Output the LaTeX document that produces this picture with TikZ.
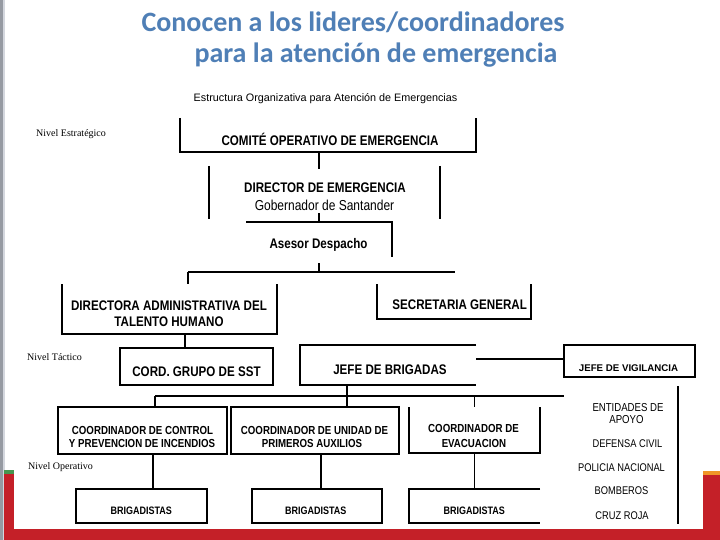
\documentclass[tikz,border=0pt]{standalone}
\usepackage{fontspec}
\setmainfont{Liberation Sans}
\newfontfamily\nivelfont{Liberation Serif}
\newfontfamily\titlefont{Carlito}
\definecolor{titleblue}{RGB}{79,127,182}
\definecolor{slidered}{RGB}{196,32,40}
\definecolor{slidegreen}{RGB}{70,150,80}
\definecolor{slideorange}{RGB}{240,150,40}
\definecolor{bargray}{RGB}{150,154,162}
\definecolor{barlight}{RGB}{212,215,222}
\newcommand\vs[1]{\scalebox{1}[1.2]{#1}}
\begin{document}
\begin{tikzpicture}[x=1pt,y=-1pt,
  boxn/.style={rectangle, draw=none, inner sep=0pt, outer sep=0pt},
  ln/.style={draw=black, line width=1.2pt},
  big/.style={anchor=base, inner sep=0pt, font=\fontsize{11.6}{12}\selectfont\bfseries},
  mid/.style={anchor=base, inner sep=0pt, font=\fontsize{9.7}{10}\selectfont\bfseries},
  small/.style={anchor=base, inner sep=0pt, font=\fontsize{9}{10}\selectfont\bfseries},
  ent/.style={anchor=base, inner sep=0pt, font=\fontsize{9.3}{10}\selectfont},
  nivel/.style={anchor=base west, inner sep=0pt, font=\nivelfont\fontsize{10}{11}\selectfont},
  ttl/.style={anchor=base, inner sep=0pt, text=titleblue, font=\titlefont\bfseries\fontsize{28}{30}\selectfont}]
\useasboundingbox (0,0) rectangle (720,540);
\fill[white] (0,0) rectangle (720,540);
% slide decoration
\fill[bargray] (0,0) rectangle (3,540);
\fill[barlight] (3,0) rectangle (5,540);
\fill[slidered] (4,474) rectangle (14,540);
\fill[slidegreen] (4,470) rectangle (14,474);
\fill[slidered] (4,529) rectangle (720,540);
\fill[slidered] (703,474) rectangle (720,540);
\fill[slideorange] (703,471) rectangle (720,475);
% title
\node[ttl] (ttl1) at (353,32) {Conocen a los lideres/coordinadores};
\node[ttl] (ttl2) at (376,63) {para la atención de emergencia};
% header
\node[anchor=base, inner sep=0pt, font=\fontsize{10.8}{11}\selectfont] (tstruct) at (325.5,102) {Estructura Organizativa para Atención de Emergencias};
\node[nivel] (nivel1) at (36,137) {Nivel Estratégico};
\node[nivel] (nivel2) at (27,360.7) {Nivel Táctico};
\node[nivel] (nivel3) at (28,469.5) {Nivel Operativo};
% boxes
\node[boxn, minimum width=296pt, minimum height=34pt] (comite) at (328,135) {};
\node[boxn, minimum width=231pt, minimum height=53pt] (director) at (324.5,192.5) {};
\node[boxn, minimum width=146pt, minimum height=35pt] (asesor) at (319,239.5) {};
\node[boxn, minimum width=215pt, minimum height=50pt] (directora) at (169.5,309) {};
\node[boxn, minimum width=154pt, minimum height=35pt] (secretaria) at (454,301.5) {};
\node[boxn, minimum width=153pt, minimum height=37pt] (cord) at (196.5,366.5) {};
\node[boxn, minimum width=176pt, minimum height=40pt] (jefebrig) at (388,365) {};
\node[boxn, minimum width=131pt, minimum height=32pt] (vigilancia) at (629.5,361) {};
\node[boxn, minimum width=169pt, minimum height=47pt] (control) at (142.5,430.5) {};
\node[boxn, minimum width=168pt, minimum height=47pt] (unidad) at (315,430.5) {};
\node[boxn, minimum width=131pt, minimum height=46pt] (evac) at (474.5,430) {};
\node[boxn, minimum width=131pt, minimum height=34pt] (brig1) at (141.5,506) {};
\node[boxn, minimum width=130pt, minimum height=34pt] (brig2) at (317,506) {};
\node[boxn, minimum width=131pt, minimum height=34pt] (brig3) at (474.5,506) {};
\node[boxn, minimum width=118pt, minimum height=138pt] (entidades) at (619,455) {};
% box outlines (as printed, some sides missing)
\draw[ln] (comite.north west) -- (comite.south west) -- (comite.south east) -- (comite.north east);
\draw[ln] (director.north west) -- (director.south west);
\draw[ln] (director.north east) -- (director.south east);
\draw[ln] (asesor.north west) -- (asesor.north east) -- (asesor.south east);
\draw[ln] (directora.north west) -- (directora.south west) -- (directora.south east) -- (directora.north east);
\draw[ln] (secretaria.north west) -- (secretaria.south west) -- (secretaria.south east) -- (secretaria.north east);
\draw[ln] (cord.north west) rectangle (cord.south east);
\draw[ln] (jefebrig.north east) -- (jefebrig.north west) -- (jefebrig.south west) -- (jefebrig.south east);
\draw[ln] (vigilancia.north west) rectangle (vigilancia.south east);
\draw[ln] (control.north west) rectangle (control.south east);
\draw[ln] (unidad.north west) rectangle (unidad.south east);
\draw[ln] (evac.north west) -- (evac.south west) -- (evac.south east) -- (evac.north east);
\draw[ln] (brig1.north west) rectangle (brig1.south east);
\draw[ln] (brig2.north west) rectangle (brig2.south east);
\draw[ln] (brig3.north east) -- (brig3.north west) -- (brig3.south west) -- (brig3.south east);
\draw[ln] (entidades.north east) -- (entidades.south east);
% connectors
\coordinate (bus1L) at (188,272);
\coordinate (bus1R) at (455,272);
\coordinate (bus2L) at (155,396);
\coordinate (bus2R) at (564,396);
\draw[ln] (comite.south -| asesor.north) -- ++(0,17);
\draw[ln] (asesor.north) -- ++(0,-9);
\draw[ln] (asesor.south) ++(0,6) -- (asesor.south |- bus1L);
\draw[ln] (bus1L) -- (bus1R);
\draw[ln] (bus1L) -- (bus1L |- directora.north);
\draw[ln] ([xshift=15.5pt]directora.south) -- ([xshift=15.5pt]directora.south |- cord.north);
\draw[ln] ([yshift=2pt]vigilancia.west) -- ([yshift=2pt]vigilancia.west -| jefebrig.east);
\draw[ln] (bus2L) -- (bus2R);
\draw[ln] (bus2L) -- (bus2L |- control.north);
\draw[ln] (evac.north |- bus2L) -- (evac.north);
\draw[ln] ([xshift=-41pt]jefebrig.south) -- ([xshift=-41pt]jefebrig.south |- unidad.north);
\draw[ln] ([xshift=10.5pt]control.south) -- ([xshift=10.5pt]control.south |- brig1.north);
\draw[ln] ([xshift=6pt]unidad.south) -- ([xshift=6pt]unidad.south |- brig2.north);
\draw[ln] (evac.south) -- (brig3.north);
% texts
\node[big] (tcomite) at (330,146) {\vs{COMITÉ OPERATIVO DE EMERGENCIA}};
\node[big] (tdir1) at (325,192.7) {\vs{DIRECTOR DE EMERGENCIA}};
\node[big, font=\fontsize{12}{13}\selectfont] (tdir2) at (324.5,210.7) {\vs{Gobernador de Santander}};
\node[big] (tases) at (318.5,248.3) {\vs{Asesor Despacho}};
\node[big] (tdta1) at (169,310.7) {\vs{DIRECTORA ADMINISTRATIVA DEL}};
\node[big] (tdta2) at (169,326.7) {\vs{TALENTO HUMANO}};
\node[big] (tsec) at (459.7,309.3) {\vs{SECRETARIA GENERAL}};
\node[big] (tcord) at (196.5,376.7) {\vs{CORD. GRUPO DE SST}};
\node[big] (tjefe) at (390,374) {\vs{JEFE DE BRIGADAS}};
\node[mid] (tvig) at (628.5,371) {JEFE DE VIGILANCIA};
\node[mid] (tctl1) at (142.5,434) {\vs{COORDINADOR DE CONTROL}};
\node[mid] (tctl2) at (142,447.7) {\vs{Y PREVENCION DE INCENDIOS}};
\node[mid] (tuni1) at (314.5,434) {\vs{COORDINADOR DE UNIDAD DE}};
\node[mid] (tuni2) at (312,447.7) {\vs{PRIMEROS AUXILIOS}};
\node[mid] (tev1) at (473.5,432.7) {\vs{COORDINADOR DE}};
\node[mid] (tev2) at (474,447.3) {\vs{EVACUACION}};
\node[small] (tb1) at (141.3,514.3) {\vs{BRIGADISTAS}};
\node[small] (tb2) at (315.8,514.3) {\vs{BRIGADISTAS}};
\node[small] (tb3) at (474.3,514.3) {\vs{BRIGADISTAS}};
\node[ent, font=\fontsize{9.6}{10}\selectfont] (tent1) at (628,411.7) {\vs{ENTIDADES DE}};
\node[ent, font=\fontsize{9.6}{10}\selectfont] (tent2) at (626.5,423.3) {\vs{APOYO}};
\node[ent] (tent3) at (627.5,447.3) {\vs{DEFENSA CIVIL}};
\node[ent] (tent4) at (621.5,471.7) {\vs{POLICIA NACIONAL}};
\node[ent] (tent5) at (621.5,494) {\vs{BOMBEROS}};
\node[ent] (tent6) at (622,519) {\vs{CRUZ ROJA}};
\end{tikzpicture}
\end{document}
